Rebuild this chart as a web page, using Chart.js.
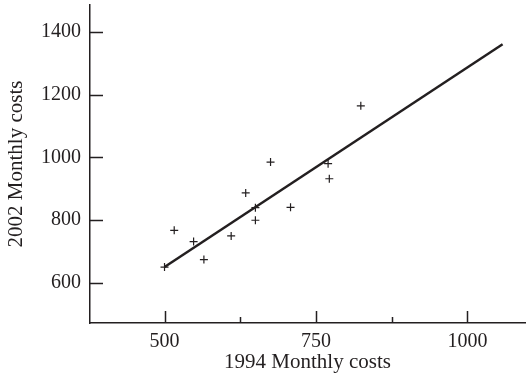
<!DOCTYPE html>
<html>
<head>
<meta charset="utf-8">
<script src="https://cdn.jsdelivr.net/npm/chart.js@4/dist/chart.umd.min.js"></script>
<style>
  html, body { margin: 0; padding: 0; background: #fff; }
  #wrap { width: 526px; height: 383px; }
</style>
</head>
<body>
<div id="wrap"><canvas id="c" width="526" height="383"></canvas></div>
<script>
// Data
const costs1994 = [500, 516, 548, 565, 610, 634, 650, 650, 675, 708, 770, 772, 824];
const costs2002 = [651, 768, 732, 675, 750, 887, 840, 800, 985, 841, 980, 932, 1164];
const fitX = [500, 1058];
const fitY = [651, 1360];
const xMajorTicks = [500, 750, 1000];
const xMinorTicks = [625, 875];
const yTicks = [600, 800, 1000, 1200, 1400];

const INK = '#231f20';
const FONT = "'Liberation Serif', 'Times New Roman', serif";

const inwardTicks = {
  id: 'inwardTicks',
  afterDraw(chart) {
    const {ctx, chartArea, scales} = chart;
    ctx.save();
    ctx.strokeStyle = INK;
    ctx.lineWidth = 1.5;
    ctx.beginPath();
    xMajorTicks.forEach(v => {
      const px = Math.round(scales.x.getPixelForValue(v)) + 0.5;
      ctx.moveTo(px, chartArea.bottom);
      ctx.lineTo(px, chartArea.bottom - 12);
    });
    xMinorTicks.forEach(v => {
      const px = Math.round(scales.x.getPixelForValue(v)) + 0.5;
      ctx.moveTo(px, chartArea.bottom);
      ctx.lineTo(px, chartArea.bottom - 6);
    });
    yTicks.forEach(v => {
      const py = Math.round(scales.y.getPixelForValue(v)) + 0.5;
      ctx.moveTo(chartArea.left, py);
      ctx.lineTo(chartArea.left + 13, py);
    });
    ctx.stroke();
    ctx.restore();
  }
};

new Chart(document.getElementById('c'), {
  type: 'scatter',
  data: {
    datasets: [
      {
        label: 'Data',
        data: costs1994.map((x, i) => ({x: x, y: costs2002[i]})),
        pointStyle: 'cross',
        pointRadius: 4,
        pointBorderWidth: 1.2,
        borderColor: INK,
        backgroundColor: INK,
        showLine: false
      },
      {
        label: 'Fit',
        data: fitX.map((x, i) => ({x: x, y: fitY[i]})),
        showLine: true,
        borderColor: INK,
        borderWidth: 2.5,
        pointRadius: 0,
        fill: false
      }
    ]
  },
  options: {
    responsive: false,
    animation: false,
    devicePixelRatio: 1,
    layout: { autoPadding: false, padding: { top: 5, right: 1, left: 0, bottom: 0 } },
    plugins: {
      legend: { display: false },
      tooltip: { enabled: false }
    },
    scales: {
      x: {
        type: 'linear',
        min: 377,
        max: 1095,
        afterBuildTicks: s => { s.ticks = xMajorTicks.map(v => ({value: v})); },
        afterFit: s => { s.height = 60; s.paddingLeft = 0; s.paddingRight = 0; },
        grid: { display: false, drawTicks: false },
        border: { display: true, color: INK, width: 1.5 },
        ticks: { color: INK, padding: 7, font: { family: FONT, size: 20 }, callback: v => String(v) },
        title: {
          display: true,
          text: '1994 Monthly costs',
          color: INK,
          font: { family: FONT, size: 21 },
          padding: { top: 0, bottom: 8 }
        }
      },
      y: {
        type: 'linear',
        min: 473,
        max: 1485,
        afterBuildTicks: s => { s.ticks = yTicks.map(v => ({value: v})); },
        afterFit: s => { s.width = 90; s.paddingTop = 0; s.paddingBottom = 0; },
        grid: { display: false, drawTicks: false },
        border: { display: true, color: INK, width: 1.5 },
        ticks: { color: INK, padding: 9, font: { family: FONT, size: 20 }, callback: v => String(v) },
        title: {
          display: true,
          text: '2002 Monthly costs',
          color: INK,
          font: { family: FONT, size: 21 },
          padding: { top: 4, bottom: 0 }
        }
      }
    }
  },
  plugins: [inwardTicks]
});
</script>
</body>
</html>
